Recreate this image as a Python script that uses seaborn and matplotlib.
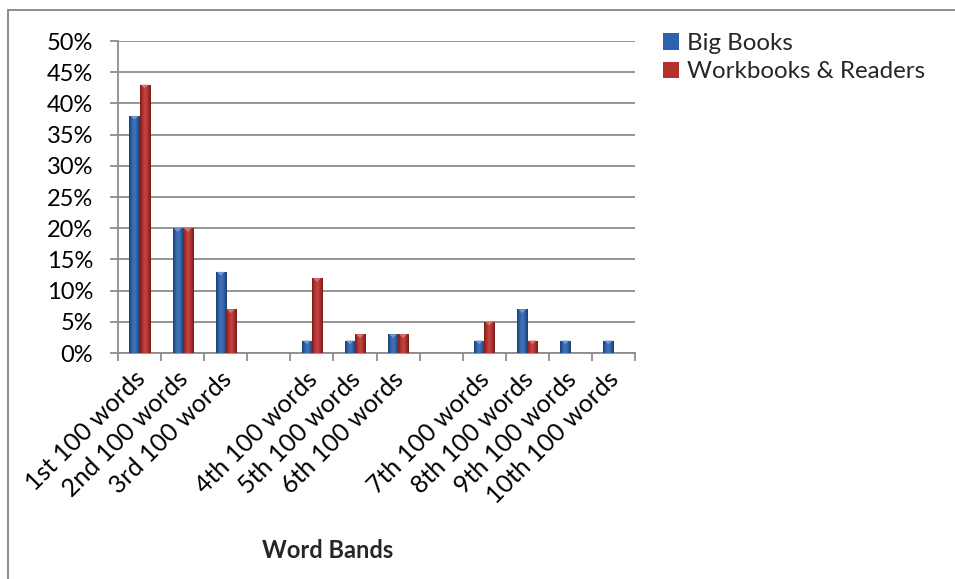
import numpy as np
import pandas as pd
import matplotlib
matplotlib.use("Agg")
import matplotlib.pyplot as plt
import matplotlib.patches as mpatches
import matplotlib.transforms as mtransforms
from matplotlib.colors import to_rgb, LinearSegmentedColormap
from matplotlib.ticker import FuncFormatter, FixedLocator
import seaborn as sns

# Word-band categories (two blank spacer slots keep the gaps in the axis)
categories = ["1st 100 words", "2nd 100 words", "3rd 100 words", " ",
              "4th 100 words", "5th 100 words", "6th 100 words", "  ",
              "7th 100 words", "8th 100 words", "9th 100 words", "10th 100 words"]
bands = ["1st 100 words", "2nd 100 words", "3rd 100 words",
         "4th 100 words", "5th 100 words", "6th 100 words",
         "7th 100 words", "8th 100 words", "9th 100 words", "10th 100 words"]
big_books = [0.38, 0.20, 0.13, 0.02, 0.02, 0.03, 0.02, 0.07, 0.02, 0.02]
workbooks_readers = [0.43, 0.20, 0.07, 0.12, 0.03, 0.03, 0.05, 0.02, 0.0, 0.0]
series_names = ["Big Books", "Workbooks & Readers"]
y_ticks = [0.0, 0.05, 0.10, 0.15, 0.20, 0.25, 0.30, 0.35, 0.40, 0.45, 0.50]

colors = {"Big Books": "#2D63AE", "Workbooks & Readers": "#B8302E"}
grid_gray = "#8C8C8C"
FS = 17

df = pd.DataFrame({
    "band": bands * 2,
    "share": big_books + workbooks_readers,
    "series": [series_names[0]] * len(bands) + [series_names[1]] * len(bands),
})

sns.set_style("white")
plt.rcParams["font.family"] = ["Lato", "DejaVu Sans"]

W, H = 955, 579
fig = plt.figure(figsize=(W / 100, H / 100), dpi=100)
ax = fig.add_axes([118 / W, 1 - 353 / H, (635 - 118) / W, (353 - 41) / H])

sns.barplot(data=df, x="band", y="share", hue="series", order=categories,
            hue_order=series_names, palette=colors, width=0.47, gap=0,
            saturation=1, legend=False, ax=ax, zorder=3, linewidth=0,
            errorbar=None)

ax.set_xlim(-0.5, len(categories) - 0.5)
ax.set_ylim(0, 0.5)


def shade(c, f):
    r = np.array(to_rgb(c))
    if f < 1:
        return tuple(r * f)
    return tuple(r + (1 - r) * (f - 1))


# Bevelled look: horizontal gradient clipped to each bar, plus a light top cap
for bar in list(ax.patches):
    h = bar.get_height()
    if not np.isfinite(h) or h <= 0:
        continue
    x0, w = bar.get_x(), bar.get_width()
    base = bar.get_facecolor()[:3]
    cmap = LinearSegmentedColormap.from_list(
        "bevel", [shade(base, 0.62), shade(base, 1.0), shade(base, 1.12),
                  shade(base, 0.95), shade(base, 0.6)])
    grad = np.linspace(0, 1, 64).reshape(1, -1)
    im = ax.imshow(grad, cmap=cmap, extent=[x0, x0 + w, 0, h], aspect="auto",
                   zorder=3.5, interpolation="bicubic")
    im.set_clip_path(bar)
    cap_h = 0.006
    tri = mpatches.Polygon([[x0 + w * 0.12, h], [x0 + w * 0.88, h],
                            [x0 + w * 0.5, h - cap_h]], closed=True,
                           facecolor=shade(base, 1.35), edgecolor="none",
                           zorder=3.6)
    ax.add_patch(tri)

ax.set_xlim(-0.5, len(categories) - 0.5)
ax.set_ylim(0, 0.5)

# Axes, grid and ticks
ax.set_yticks(y_ticks)
ax.yaxis.set_major_formatter(FuncFormatter(lambda v, p: f"{round(v * 100):d}%"))
ax.yaxis.grid(True, color=grid_gray, linewidth=1.3, zorder=0)
ax.set_axisbelow(True)
for side in ["top", "right"]:
    ax.spines[side].set_visible(False)
for side in ["left", "bottom"]:
    ax.spines[side].set_color(grid_gray)
    ax.spines[side].set_linewidth(1.3)
ax.tick_params(axis="y", which="major", length=6, width=1.3, color=grid_gray,
               pad=12, labelsize=FS, labelcolor="black", left=True)
ax.set_xticks(range(len(categories)))
ax.set_xticklabels(categories, rotation=45, ha="right", rotation_mode="anchor",
                   va="center")
ax.tick_params(axis="x", which="major", length=0, pad=16, labelsize=18,
               labelcolor="black")
shift = mtransforms.ScaledTranslation(2 / 100, 0, fig.dpi_scale_trans)
for lab in ax.get_xticklabels():
    lab.set_transform(lab.get_transform() + shift)
ax.xaxis.set_minor_locator(FixedLocator(np.arange(-0.5, len(categories), 1.0)))
ax.tick_params(axis="x", which="minor", length=6, width=1.3, color=grid_gray,
               bottom=True)
ax.set_xlabel("")
ax.set_ylabel("")

# Legend
handles = [mpatches.Patch(facecolor=colors[s], edgecolor="none") for s in series_names]
ax.legend(handles, series_names, loc="upper left",
          bbox_to_anchor=(663 / W, 1 - 33 / H), bbox_transform=fig.transFigure,
          frameon=False, fontsize=17.4, handlelength=0.65, handleheight=0.65,
          handletextpad=0.35, borderaxespad=0, borderpad=0, labelspacing=0.3)

# Axis title
fig.text(328 / W, 1 - 550 / H, "Word Bands", ha="center", va="center",
         fontsize=FS, fontweight="bold")

# Chart frame
fig.patches.append(mpatches.Rectangle((8 / W, -0.1), 1.2, 1.1 - 10 / H,
                                      transform=fig.transFigure, fill=False,
                                      edgecolor=grid_gray, linewidth=1.4))

fig.savefig("out.png", dpi=100)
